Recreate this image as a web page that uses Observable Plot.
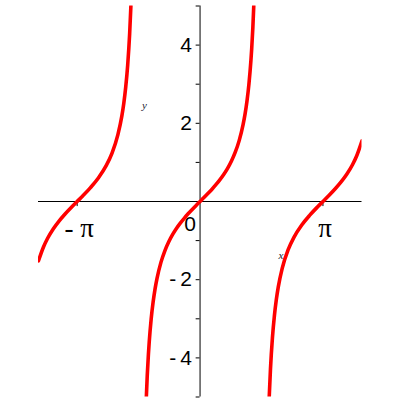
<!DOCTYPE html>
<html>
<head>
<meta charset="utf-8">
<script src="https://cdn.jsdelivr.net/npm/d3@7"></script>
<script src="https://cdn.jsdelivr.net/npm/@observablehq/plot@0.6"></script>
<style>
  html, body { margin: 0; padding: 0; background: #fff; }
  #chart svg { display: block; }
</style>
</head>
<body>
<div id="chart"></div>
<script>
// Values (three branches of the curve)
const branch1X = [-4.13, -4.0, -3.9, -3.75, -3.6, -3.45, -3.3, -3.1416, -3.0, -2.8, -2.6, -2.4, -2.25, -2.1, -2.0, -1.95, -1.9, -1.85, -1.8, -1.768];
const branch1Y = [-1.516, -1.158, -0.947, -0.696, -0.493, -0.318, -0.159, 0, 0.142, 0.356, 0.602, 0.916, 1.238, 1.709, 2.184, 2.508, 2.927, 3.488, 4.287, 5.0];
const branch2X = [-1.373, -1.35, -1.32, -1.3, -1.25, -1.2, -1.15, -1.1, -1.0, -0.9, -0.8, -0.7, -0.6, -0.5, -0.4, -0.3, -0.2, -0.1, 0, 0.1, 0.2, 0.3, 0.4, 0.5, 0.6, 0.7, 0.8, 0.9, 1.0, 1.1, 1.15, 1.2, 1.25, 1.3, 1.32, 1.35, 1.373];
const branch2Y = [-5.0, -4.455, -3.903, -3.602, -3.010, -2.572, -2.234, -1.965, -1.557, -1.260, -1.030, -0.842, -0.684, -0.546, -0.423, -0.309, -0.203, -0.100, 0, 0.100, 0.203, 0.309, 0.423, 0.546, 0.684, 0.842, 1.030, 1.260, 1.557, 1.965, 2.234, 2.572, 3.010, 3.602, 3.903, 4.455, 5.0];
const branch3X = [1.768, 1.8, 1.85, 1.9, 1.95, 2.0, 2.1, 2.25, 2.4, 2.6, 2.8, 3.0, 3.1416, 3.3, 3.45, 3.6, 3.75, 3.9, 4.0, 4.14];
const branch3Y = [-5.0, -4.287, -3.488, -2.927, -2.508, -2.184, -1.709, -1.238, -0.916, -0.602, -0.356, -0.142, 0, 0.159, 0.318, 0.493, 0.696, 0.947, 1.158, 1.552];

// Axis ticks and labels
const yTickValues = [-5, -4, -3, -2, -1, 1, 2, 3, 4, 5];
const yLabelValues = [-4, -2, 2, 4];
const yLabelTexts = ["-\u20094", "-\u20092", "2", "4"];
const xTickValues = [-Math.PI, Math.PI];
const xLabelTexts = ["- \u03c0", "\u03c0"];
const zeroLabel = ["0"];
const axisNames = ["x", "y"];

const points = [];
[[branch1X, branch1Y], [branch2X, branch2Y], [branch3X, branch3Y]].forEach(([xs, ys], b) => {
  xs.forEach((x, i) => points.push({branch: b, x, y: ys[i]}));
});
const yLabels = yLabelValues.map((v, i) => ({v, t: yLabelTexts[i]}));
const xLabels = xTickValues.map((v, i) => ({v, t: xLabelTexts[i]}));

const chart = Plot.plot({
  width: 400,
  height: 400,
  marginLeft: 38,
  marginRight: 38.5,
  marginTop: 5.5,
  marginBottom: 3.5,
  x: {domain: [-4.13, 4.14], axis: null},
  y: {domain: [-5, 5], axis: null},
  style: {background: "#fff", fontFamily: "'Liberation Sans', Arial, sans-serif"},
  marks: [
    Plot.ruleY([0], {stroke: "#000", strokeWidth: 1}),
    Plot.ruleX([0], {stroke: "#000", strokeWidth: 1}),
    Plot.ruleY(yTickValues, {y: d => d, x1: -0.1, x2: 0, stroke: "#000", strokeWidth: 1}),
    Plot.ruleX(xTickValues, {x: d => d, y1: -0.13, y2: 0, stroke: "#000", strokeWidth: 1}),
    Plot.text(yLabels, {x: 0, y: "v", text: "t", textAnchor: "end", dx: -8, fontSize: 21, fill: "#000"}),
    Plot.text(xLabels, {x: "v", y: 0, text: "t", textAnchor: "middle", dx: 2, dy: 27, fontSize: 27, fill: "#000", fontFamily: "'Liberation Serif', 'Times New Roman', serif"}),
    Plot.text(zeroLabel, {x: 0, y: 0, text: d => d, textAnchor: "middle", dx: -10, dy: 23, fontSize: 21, fill: "#000"}),
    Plot.text([axisNames[1]], {x: -1.42, y: 2.46, text: d => d, fontSize: 11, fontStyle: "italic", fill: "#223", fontFamily: "'Liberation Serif', serif"}),
    Plot.text([axisNames[0]], {x: 2.07, y: -1.38, text: d => d, fontSize: 11, fontStyle: "italic", fill: "#223", fontFamily: "'Liberation Serif', serif"}),
    Plot.line(points, {x: "x", y: "y", z: "branch", stroke: "#ff0000", strokeWidth: 3.6, curve: "monotone-x", clip: true})
  ]
});
document.getElementById("chart").appendChild(chart);
</script>
</body>
</html>
